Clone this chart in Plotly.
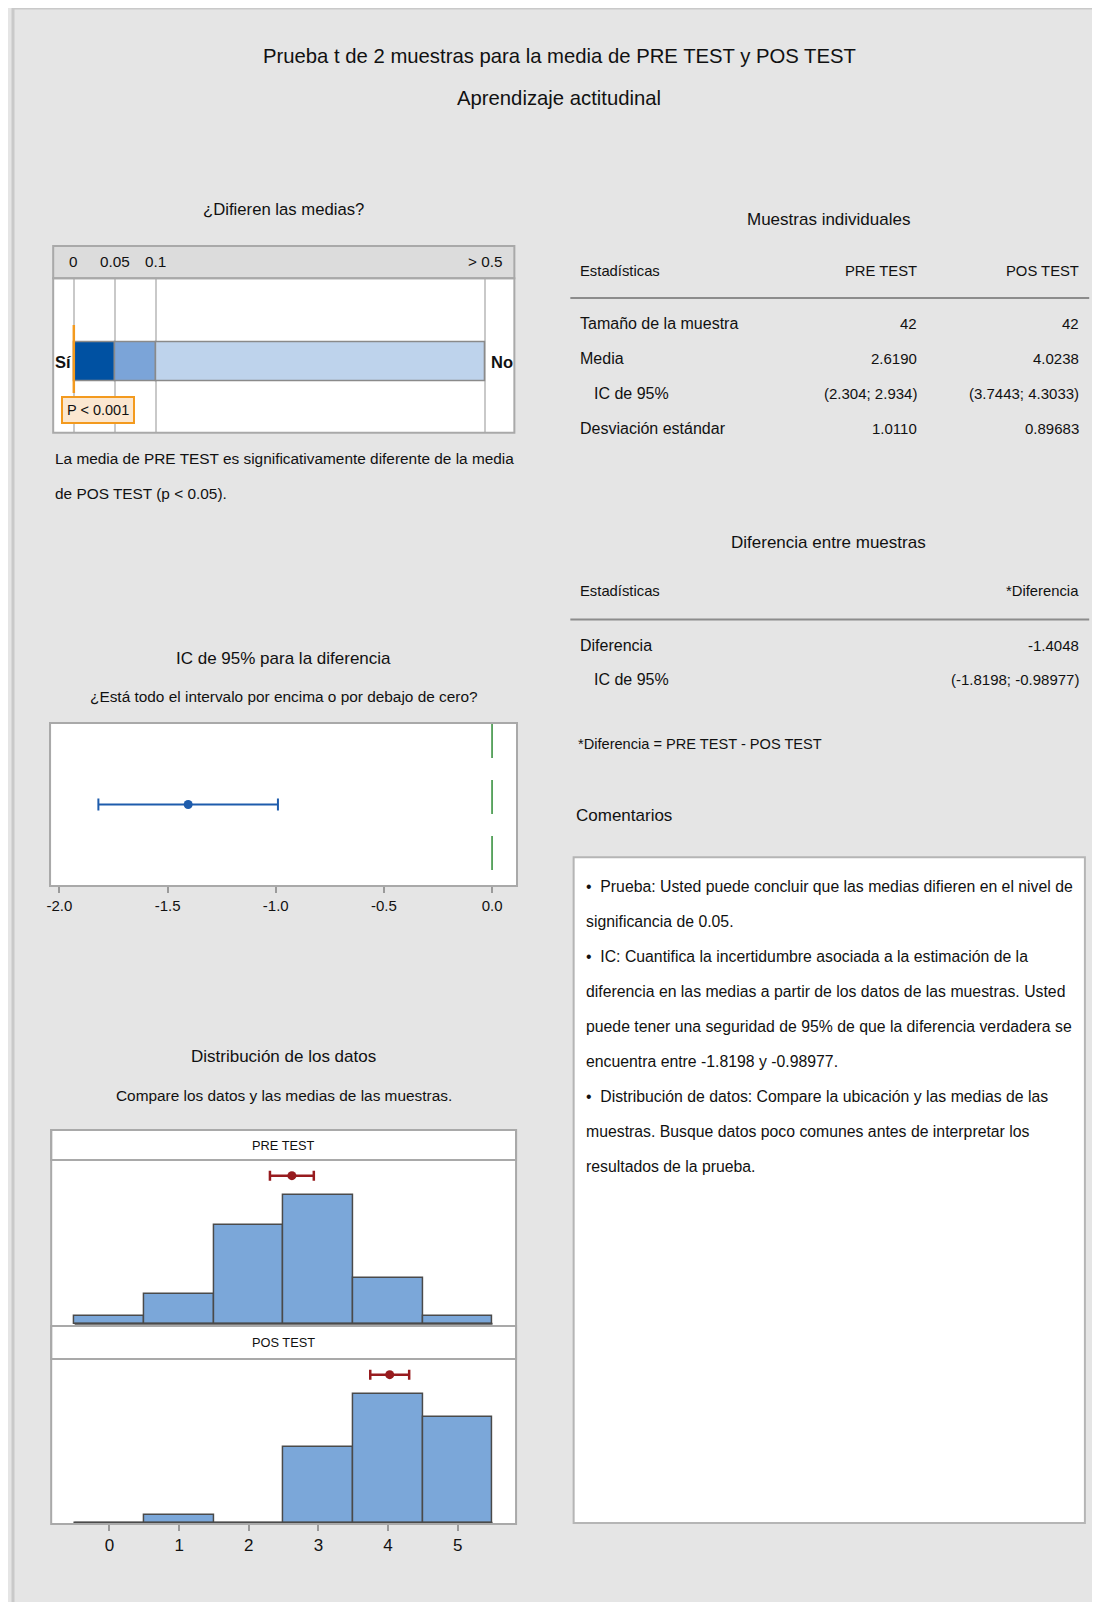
import plotly.graph_objects as go

# the page places the figure with a small offset; layout positions below are in screenshot pixels
OX, SX = 12.5, 0.9957
OY = 8
W, H = 1092, 1594


def fx(px):
    return ((px - OX) / SX) / W


def fy(py):
    return 1 - (py - OY) / H


# ---------------- data ----------------
title_lines = ["Prueba t de 2 muestras para la media de PRE TEST y POS TEST", "Aprendizaje actitudinal"]

p_bounds = [0, 0.05, 0.1, 0.5]
p_tick_labels = ["0", "0.05", "0.1", "> 0.5"]
p_colors = ["#0051A2", "#7BA4D8", "#BED3EC"]
p_marker = 0.0
p_label = "P < 0.001"

diff_mean = -1.4048
diff_ci_lo = -1.8198
diff_ci_hi = -0.98977
ci_ticks = [-2.0, -1.5, -1.0, -0.5, 0.0]
ci_tick_labels = ["-2.0", "-1.5", "-1.0", "-0.5", "0.0"]

hist_bins = [0, 1, 2, 3, 4, 5]
pre_counts = [1, 4, 13, 17, 6, 1]
pos_counts = [0, 1, 0, 10, 17, 14]
pre_mean, pre_ci_lo, pre_ci_hi = 2.6190, 2.304, 2.934
pos_mean, pos_ci_lo, pos_ci_hi = 4.0238, 3.7443, 4.3033

table_cols = ["Estadísticas", "PRE TEST", "POS TEST"]
stat_labels = ["Tamaño de la muestra", "Media", "IC de 95%", "Desviación estándar"]
stat_indent = [False, False, True, False]
pre_vals = ["42", "2.6190", "(2.304; 2.934)", "1.0110"]
pos_vals = ["42", "4.0238", "(3.7443; 4.3033)", "0.89683"]

diff_cols = ["Estadísticas", "*Diferencia"]
diff_labels = ["Diferencia", "IC de 95%"]
diff_indent = [False, True]
diff_vals = ["-1.4048", "(-1.8198; -0.98977)"]

comment_lines = [
    "•  Prueba: Usted puede concluir que las medias difieren en el nivel de",
    "significancia de 0.05.",
    "•  IC: Cuantifica la incertidumbre asociada a la estimación de la",
    "diferencia en las medias a partir de los datos de las muestras. Usted",
    "puede tener una seguridad de 95% de que la diferencia verdadera se",
    "encuentra entre -1.8198 y -0.98977.",
    "•  Distribución de datos: Compare la ubicación y las medias de las",
    "muestras. Busque datos poco comunes antes de interpretar los",
    "resultados de la prueba.",
]

# ---------------- style ----------------
FONT = "Liberation Sans, Arial, sans-serif"
TXT = "#111111"
BORDER = "#a9a9a9"
BAR_FILL = "#7BA7D9"
BAR_LINE = "#4a4a4a"
RED = "#971B1E"
BLUE = "#1E5CAC"
S_TITLE = 20.3
S_HEAD = 17
S_BODY = 15.4
S_TAB = 16
S_COLS = 14.8
S_NUM = 15
S_COMM = 15.8

fig = go.Figure()
ann = []
shapes = []


def text(x, y, s, size=17, anchor="center", bold=False, **kw):
    ann.append(dict(x=fx(x), y=fy(y), xref="paper", yref="paper", text=("<b>%s</b>" % s) if bold else s,
                    showarrow=False, xanchor=anchor, yanchor="middle",
                    font=dict(family=FONT, size=size, color=TXT), **kw))


# thin frame on the left / top edge of the grey page
shapes.append(dict(type="line", xref="paper", yref="paper", x0=0, x1=1, y0=1, y1=1,
                   line=dict(color="#c9c9c9", width=3), layer="below"))
shapes.append(dict(type="line", xref="paper", yref="paper", x0=0, x1=0, y0=0, y1=1,
                   line=dict(color="#c9c9c9", width=3), layer="below"))

# titles
text(559, 56.5, title_lines[0], size=S_TITLE)
text(559, 98, title_lines[1], size=S_TITLE)

# ---------------- p-value panel ----------------
PX0, PX1, PY0, PY1 = 52.7, 514, 278.3, 432.7
p_left = -0.0251
p_right = 0.5361
seg_starts = p_bounds[:-1]
seg_widths = [b - a for a, b in zip(p_bounds[:-1], p_bounds[1:])]
fig.add_trace(go.Bar(x=seg_widths, base=seg_starts, y=[0.46] * len(seg_widths), orientation="h",
                     width=0.25, marker=dict(color=p_colors, line=dict(color="#8a8a8a", width=1.5)),
                     xaxis="x", yaxis="y", showlegend=False, hoverinfo="skip"))
shapes.append(dict(type="rect", xref="paper", yref="paper", x0=fx(PX0), x1=fx(PX1), y0=fy(PY0), y1=fy(246),
                   fillcolor="#dcdcdc", line=dict(color=BORDER, width=2)))
shapes.append(dict(type="rect", xref="paper", yref="paper", x0=fx(PX0), x1=fx(PX1), y0=fy(PY1), y1=fy(PY0),
                   fillcolor="rgba(0,0,0,0)", line=dict(color=BORDER, width=2)))
for v, lab in zip(p_bounds, p_tick_labels):
    ann.append(dict(x=v, y=fy(261), xref="x", yref="paper", text=lab, showarrow=False,
                    xanchor="center", yanchor="middle", font=dict(family=FONT, size=15.3, color=TXT)))
shapes.append(dict(type="line", xref="x", yref="paper", x0=p_marker, x1=p_marker, y0=fy(393), y1=fy(325),
                   line=dict(color="#F39A1E", width=2.5), layer="above"))
ann.append(dict(x=fx(97.5), y=fy(409.5), xref="paper", yref="paper", text=p_label, showarrow=False,
                xanchor="center", yanchor="middle", bgcolor="#FBE7D0", bordercolor="#F39A1E", borderwidth=2,
                borderpad=4, font=dict(family=FONT, size=14.5, color=TXT)))
text(63, 361.7, "Sí", size=16.5, bold=True)
text(501.5, 361.7, "No", size=16.5, bold=True)
text(283, 210, "¿Difieren las medias?", size=16.7)
text(52.7, 458.3, "La media de PRE TEST es significativamente diferente de la media", size=S_BODY, anchor="left")
text(52.7, 493.3, "de POS TEST (p < 0.05).", size=S_BODY, anchor="left")

# ---------------- CI panel ----------------
CX0, CX1, CY0, CY1 = 50.7, 515.7, 724, 885
fig.add_trace(go.Scatter(x=[diff_mean], y=[0.5], mode="markers",
                         marker=dict(color=BLUE, size=9),
                         error_x=dict(type="data", symmetric=False, array=[diff_ci_hi - diff_mean],
                                      arrayminus=[diff_mean - diff_ci_lo], color=BLUE, thickness=2, width=6),
                         xaxis="x2", yaxis="y2", showlegend=False, hoverinfo="skip"))
shapes.append(dict(type="line", xref="x2", yref="y2 domain", x0=0, x1=0, y0=1, y1=0,
                   line=dict(color="#2E8B35", width=1.5, dash="34px,22px")))
text(283.3, 658.3, "IC de 95% para la diferencia", size=S_HEAD)
text(283.3, 696.7, "¿Está todo el intervalo por encima o por debajo de cero?", size=S_BODY)

# ---------------- histogram panel ----------------
HX0, HX1 = 50.7, 515.7
H1Y0, H1Y1 = 1160, 1325
H2Y0, H2Y1 = 1359, 1524
h_range = [-0.837, 5.838]
y_range = [-0.15, 21.6]
for counts, xa, ya in [(pre_counts, "x3", "y3"), (pos_counts, "x4", "y4")]:
    fig.add_trace(go.Bar(x=hist_bins, y=counts, width=1,
                         marker=dict(color=BAR_FILL, line=dict(color=BAR_LINE, width=1.5)),
                         xaxis=xa, yaxis=ya, showlegend=False, hoverinfo="skip"))
    shapes.append(dict(type="line", xref=xa, yref=ya, x0=hist_bins[0] - 0.5, x1=hist_bins[-1] + 0.5, y0=0, y1=0,
                       line=dict(color=BAR_LINE, width=2), layer="above"))
mark_y = y_range[0] + 0.905 * (y_range[1] - y_range[0])
for m, lo, hi, xa, ya in [(pre_mean, pre_ci_lo, pre_ci_hi, "x3", "y3"), (pos_mean, pos_ci_lo, pos_ci_hi, "x4", "y4")]:
    fig.add_trace(go.Scatter(x=[m], y=[mark_y], mode="markers",
                             marker=dict(color=RED, size=9),
                             error_x=dict(type="data", symmetric=False, array=[hi - m], arrayminus=[m - lo],
                                          color=RED, thickness=2.5, width=5),
                             xaxis=xa, yaxis=ya, showlegend=False, hoverinfo="skip"))
# strips
for y0, y1, lab in [(1130, 1160, "PRE TEST"), (1326, 1359, "POS TEST")]:
    shapes.append(dict(type="rect", xref="paper", yref="paper", x0=fx(HX0), x1=fx(HX1), y0=fy(y1), y1=fy(y0),
                       fillcolor="white", line=dict(color=BORDER, width=2)))
    text((HX0 + HX1) / 2, (y0 + y1) / 2, lab, size=12.8)
shapes.append(dict(type="rect", xref="paper", yref="paper", x0=fx(HX0), x1=fx(HX1), y0=fy(H2Y1), y1=fy(1130),
                   fillcolor="rgba(0,0,0,0)", line=dict(color=BORDER, width=2)))
text(283.3, 1056.7, "Distribución de los datos", size=S_HEAD)
text(283.3, 1095, "Compare los datos y las medias de las muestras.", size=S_BODY)

# ---------------- tables ----------------
TL, TR1, TR2, LINE_X0, LINE_X1 = 578, 919, 1080.5, 570, 1089
text(828, 220, "Muestras individuales", size=S_HEAD)
text(TL, 271, table_cols[0], size=S_COLS, anchor="left")
text(TR1, 271, table_cols[1], size=S_COLS, anchor="right")
text(TR2, 271, table_cols[2], size=S_COLS, anchor="right")
shapes.append(dict(type="line", xref="paper", yref="paper", x0=fx(LINE_X0), x1=fx(LINE_X1), y0=fy(298), y1=fy(298),
                   line=dict(color="#8c8c8c", width=2)))
row_y = [323.8, 358.5, 393.3, 428.3]
for yy, lab, ind, a, b in zip(row_y, stat_labels, stat_indent, pre_vals, pos_vals):
    text(TL + (14 if ind else 0), yy, lab, size=S_TAB, anchor="left")
    text(TR1, yy, a, size=S_NUM, anchor="right")
    text(TR2, yy, b, size=S_NUM, anchor="right")

text(828, 543, "Diferencia entre muestras", size=S_HEAD)
text(TL, 591, diff_cols[0], size=S_COLS, anchor="left")
text(TR2, 591, diff_cols[1], size=S_COLS, anchor="right")
shapes.append(dict(type="line", xref="paper", yref="paper", x0=fx(LINE_X0), x1=fx(LINE_X1), y0=fy(619.5), y1=fy(619.5),
                   line=dict(color="#8c8c8c", width=2)))
for yy, lab, ind, v in zip([645.5, 679.5], diff_labels, diff_indent, diff_vals):
    text(TL + (14 if ind else 0), yy, lab, size=S_TAB, anchor="left")
    text(TR2, yy, v, size=S_NUM, anchor="right")
text(576, 743.5, "*Diferencia = PRE TEST - POS TEST", size=14.6, anchor="left")
text(573.5, 815, "Comentarios", size=S_HEAD, anchor="left")

# comments box
shapes.append(dict(type="rect", xref="paper", yref="paper", x0=fx(573.3), x1=fx(1084.7), y0=fy(1523), y1=fy(857.3),
                   fillcolor="white", line=dict(color="#b5b5b5", width=2)))
for i, line in enumerate(comment_lines):
    text(584, 886.7 + 35 * i, line, size=S_COMM, anchor="left")

# ---------------- axes ----------------
common_hidden = dict(showgrid=False, zeroline=False, showticklabels=False, ticks="", showline=False)
fig.update_layout(
    width=W, height=H,
    margin=dict(l=0, r=0, t=0, b=0),
    paper_bgcolor="#e5e5e5",
    plot_bgcolor="white",
    barmode="overlay",
    bargap=0,
    showlegend=False,
    font=dict(family=FONT, size=17, color=TXT),
    xaxis=dict(domain=[fx(PX0), fx(PX1)], range=[p_left, p_right], anchor="y", tickvals=p_bounds,
               showgrid=True, gridcolor="#c9c9c9", gridwidth=1.5, zeroline=False, showticklabels=False,
               ticks="", fixedrange=True),
    yaxis=dict(domain=[fy(PY1), fy(PY0)], range=[0, 1], anchor="x", **common_hidden),
    xaxis2=dict(domain=[fx(CX0), fx(CX1)], range=[-2.038, 0.111], anchor="y2", tickvals=ci_ticks,
                ticktext=ci_tick_labels, ticks="outside", ticklen=6, tickcolor="#9a9a9a", tickwidth=1.5,
                showgrid=False, zeroline=False, showline=True, linecolor=BORDER, linewidth=2, mirror=True,
                tickfont=dict(family=FONT, size=15, color=TXT)),
    yaxis2=dict(domain=[fy(CY1), fy(CY0)], range=[0, 1], anchor="x2", showgrid=False, zeroline=False,
                showticklabels=False, ticks="", showline=True, linecolor=BORDER, linewidth=2, mirror=True),
    xaxis3=dict(domain=[fx(HX0), fx(HX1)], range=h_range, anchor="y3", **common_hidden),
    yaxis3=dict(domain=[fy(H1Y1), fy(H1Y0)], range=y_range, anchor="x3", **common_hidden),
    xaxis4=dict(domain=[fx(HX0), fx(HX1)], range=h_range, anchor="y4", tickvals=hist_bins,
                ticks="outside", ticklen=6, tickcolor="#9a9a9a", tickwidth=1.5, showgrid=False, zeroline=False,
                showline=False, tickfont=dict(family=FONT, size=17, color=TXT)),
    yaxis4=dict(domain=[fy(H2Y1), fy(H2Y0)], range=y_range, anchor="x4", **common_hidden),
    annotations=ann,
    shapes=shapes,
)

fig.write_html("out.html")
